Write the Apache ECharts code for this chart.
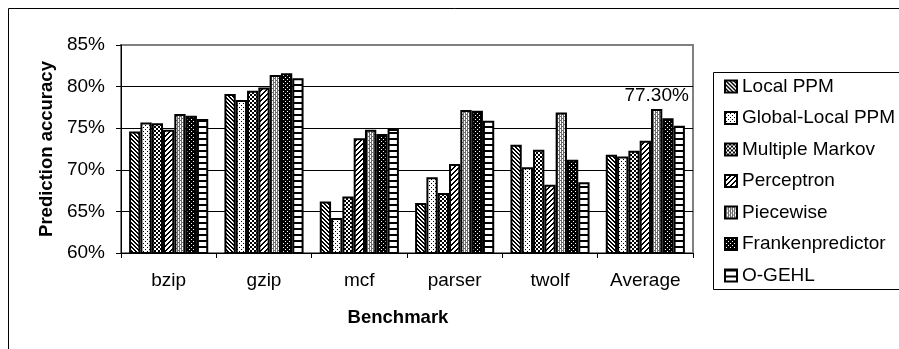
<!DOCTYPE html>
<html>
<head>
<meta charset="utf-8">
<title>Prediction accuracy by benchmark</title>
<script src="https://cdn.jsdelivr.net/npm/echarts@6/dist/echarts.min.js"></script>
<style>
  html, body { margin: 0; padding: 0; background: #fff; }
  #chart { width: 899px; height: 349px; }
</style>
</head>
<body>
<div id="chart"></div>
<script>
// Benchmarks on the x axis
const categories = ['bzip', 'gzip', 'mcf', 'parser', 'twolf', 'Average'];

// Prediction accuracy (%) per predictor
const localPPM       = [74.6, 79.1, 66.2, 66.0, 73.0, 71.8];
const globalLocalPPM = [75.7, 78.4, 64.2, 69.1, 70.3, 71.6];
const multipleMarkov = [75.6, 79.5, 66.8, 67.2, 72.4, 72.3];
const perceptron     = [74.8, 79.9, 73.8, 70.7, 68.2, 73.5];
const piecewise      = [76.7, 81.4, 74.8, 77.2, 76.9, 77.3];
const franken        = [76.5, 81.6, 74.3, 77.1, 71.2, 76.2];
const ogehl          = [76.1, 81.0, 74.9, 75.9, 68.5, 75.3];

const seriesNames = ['Local PPM', 'Global-Local PPM', 'Multiple Markov', 'Perceptron',
                     'Piecewise', 'Frankenpredictor', 'O-GEHL'];

// Y axis ticks
const yTicks = [60, 65, 70, 75, 80, 85];

const FONT = "'Liberation Sans', Arial, sans-serif";
const FS = 19;      // regular text size
const FS_B = 18.5;  // bold axis titles

// Small monochrome fill tiles, drawn pixel by pixel
function tile(w, h, bg, fg, test) {
  const c = document.createElement('canvas');
  c.width = w; c.height = h;
  const ctx = c.getContext('2d');
  ctx.fillStyle = bg;
  ctx.fillRect(0, 0, w, h);
  ctx.fillStyle = fg;
  for (let y = 0; y < h; y++) {
    for (let x = 0; x < w; x++) {
      if (test(x, y)) ctx.fillRect(x, y, 1, 1);
    }
  }
  return { image: c, repeat: 'repeat' };
}

const fills = [
  // back-diagonal hatch
  tile(4, 4, '#fff', '#000', (x, y) => ((x - y + 8) % 4) < 2),
  // sparse dots
  tile(4, 4, '#fff', '#000', (x, y) => (x === 1 && y === 1) || (x === 3 && y === 3)),
  // small checkerboard
  tile(4, 4, '#fff', '#000', (x, y) => ((x >> 1) + (y >> 1)) % 2 === 0),
  // forward-diagonal hatch
  tile(5, 5, '#fff', '#000', (x, y) => ((x + y) % 5) < 2),
  // gray crosshatch
  tile(4, 4, '#fff', '#6e6e6e', (x, y) => ((x + y) % 4 === 0) || ((x - y + 8) % 4 === 0) || ((x + y) % 2 === 1 && y % 2 === 0)),
  // white dots on black
  tile(4, 4, '#000', '#fff', (x, y) => (x === 1 && y === 1) || (x === 3 && y === 3)),
  // horizontal stripes
  tile(1, 6, '#fff', '#000', (x, y) => y < 2)
];

const values = [localPPM, globalLocalPPM, multipleMarkov, perceptron, piecewise, franken, ogehl];

const series = values.map((arr, i) => ({
  name: seriesNames[i],
  type: 'bar',
  barGap: '0%',
  barCategoryGap: '17%',
  itemStyle: { color: fills[i], borderColor: '#000', borderWidth: 2 },
  emphasis: { disabled: true },
  data: arr.map((v, j) => {
    // the overall Average for Piecewise carries a value label
    if (i === 4 && categories[j] === 'Average') {
      return {
        value: v,
        label: {
          show: true, position: 'top', distance: 4,
          formatter: (p) => p.value.toFixed(2) + '%',
          color: '#000', fontFamily: FONT, fontSize: FS
        }
      };
    }
    return v;
  })
}));

const chart = echarts.init(document.getElementById('chart'), null, { renderer: 'canvas' });

chart.setOption({
  animation: false,
  backgroundColor: '#fff',
  textStyle: { fontFamily: FONT, color: '#000' },
  grid: {
    left: 121, right: 206, top: 45, bottom: 96,
    show: true, borderColor: '#808080', borderWidth: 2, backgroundColor: 'transparent'
  },
  legend: {
    orient: 'vertical',
    left: 719, top: 72,
    itemWidth: 12, itemHeight: 12, itemGap: 12.5,
    icon: 'rect',
    selectedMode: false,
    textStyle: { fontFamily: FONT, fontSize: FS, color: '#000' },
    data: seriesNames
  },
  xAxis: {
    type: 'category',
    data: categories,
    name: 'Benchmark',
    nameLocation: 'middle',
    nameGap: 55,
    nameTextStyle: { fontFamily: FONT, fontSize: FS_B, fontWeight: 'bold', color: '#000', padding: [0, 18, 0, 0] },
    axisLine: { lineStyle: { color: '#000', width: 1 } },
    axisTick: { show: true, alignWithLabel: false, length: 5, lineStyle: { color: '#000' } },
    axisLabel: { margin: 18, fontFamily: FONT, fontSize: FS, color: '#000' }
  },
  yAxis: {
    type: 'value',
    min: yTicks[0],
    max: yTicks[yTicks.length - 1],
    interval: yTicks[1] - yTicks[0],
    name: 'Prediction accuracy',
    nameLocation: 'middle',
    nameGap: 65,
    nameTextStyle: { fontFamily: FONT, fontSize: FS_B, fontWeight: 'bold', color: '#000' },
    axisLine: { show: true, lineStyle: { color: '#000', width: 1 } },
    axisTick: { show: true, length: 5, lineStyle: { color: '#000' } },
    axisLabel: { margin: 16, fontFamily: FONT, fontSize: FS, color: '#000', formatter: '{value}%' },
    splitLine: {
      show: true,
      lineStyle: { color: ['#000', '#000', '#000', '#000', '#000', '#808080'], width: 1 }
    }
  },
  graphic: [
    // outer chart frame
    {
      type: 'rect', silent: true, z: -10,
      shape: { x: 8.5, y: 8.5, width: 1000, height: 1000 },
      style: { fill: null, stroke: '#000', lineWidth: 1 }
    },
    // legend frame
    {
      type: 'rect', silent: true, z: -10,
      shape: { x: 713.5, y: 72.5, width: 400, height: 217 },
      style: { fill: null, stroke: '#000', lineWidth: 1 }
    }
  ],
  series: series
});
</script>
</body>
</html>
